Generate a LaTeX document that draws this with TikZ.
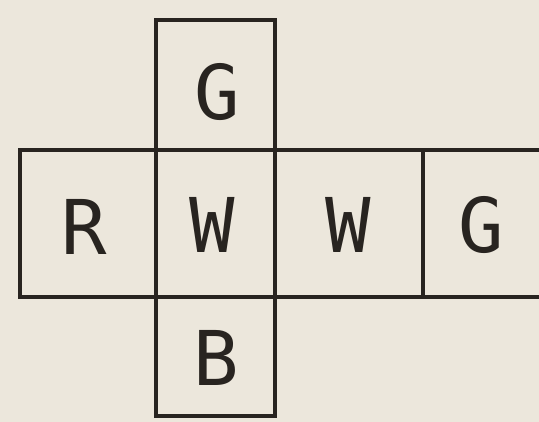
\documentclass[tikz,border=0pt]{standalone}
\usepackage{fontspec}
\newfontfamily\facefont{DejaVu Sans Mono}
\definecolor{paper}{RGB}{236,231,220}
\definecolor{ink}{RGB}{40,36,32}

\begin{document}
\begin{tikzpicture}[x=0.02cm, y=-0.02cm,
  face/.style={draw=ink, line width=2.1pt, inner sep=0pt},
  sq/.style={face, minimum width=119*0.02cm, minimum height=#1*0.02cm},
  letter/.style={text=ink, inner sep=0pt, font=\facefont\fontsize{43}{48}\selectfont}]

% ---------- page ----------
\fill[paper] (0,0) rectangle (539,422);
\useasboundingbox (0,0) rectangle (539,422);
\clip (0,0) rectangle (539,422);

% ---------- middle row ----------
\node[face, minimum width=136*0.02cm, minimum height=147*0.02cm] (left)  at (88,223.5)  {};
\node[sq=147]                                                     (front) at (215.5,223.5) {};
\node[face, minimum width=148*0.02cm, minimum height=147*0.02cm] (right) at (349,223.5)  {};
\node[face, minimum width=137*0.02cm, minimum height=147*0.02cm] (back)  at (491.5,223.5) {};

% ---------- column ----------
\node[sq=130] (top)    at (215.5,85)  {};
\node[sq=119] (bottom) at (215.5,356.5) {};

% ---------- colours ----------
\node[letter] (top-l)    at (217,92)  {G};
\node[letter] (left-l)   at (84,227)  {R};
\node[letter] (front-l)  at (212,225) {W};
\node[letter] (right-l)  at (348,225) {W};
\node[letter] (back-l)   at (481,225) {G};
\node[letter] (bottom-l) at (216,358) {B};
\end{tikzpicture}
\end{document}
